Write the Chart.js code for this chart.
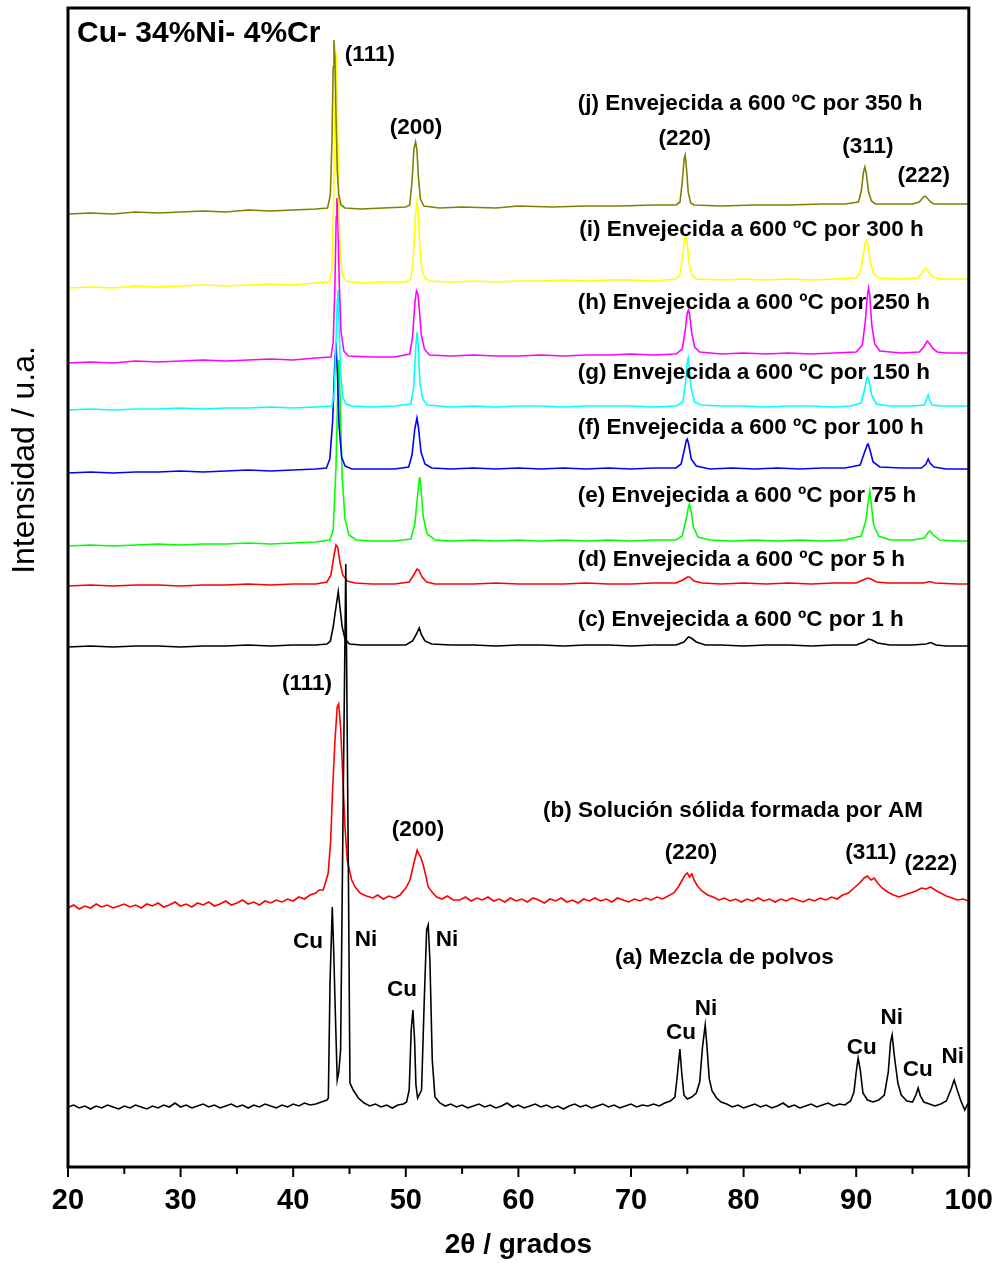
<!DOCTYPE html>
<html>
<head>
<meta charset="utf-8">
<script src="https://cdn.jsdelivr.net/npm/chart.js@4.4.0/dist/chart.umd.min.js"></script>
<style>
  html, body { margin: 0; padding: 0; background: #fff; }
  #wrap { width: 1000px; height: 1266px; }
</style>
</head>
<body>
<div id="wrap"><canvas id="xrd" width="1000" height="1266"></canvas></div>
<script>
// Difractogramas, 2θ (grados) contra intensidad desplazada (u.a.)
const xTicks = [20, 30, 40, 50, 60, 70, 80, 90, 100];

const serieJ = [[20,953],[22,954],[24,953],[26,955],[28,954],[30,955],[32,956],[34,955],[36,957],[38,956],[40,957],[42,958],[43.05,959],[43.3,972],[43.45,1030],[43.55,1100],[43.62,1127],[43.7,1110],[43.8,1050],[43.92,995],[44.05,972],[44.25,962],[44.6,959],[46,958],[48,959],[50,960],[50.35,962],[50.55,985],[50.72,1018],[50.87,1025],[50.98,1018],[51.12,990],[51.3,968],[51.6,961],[53,959],[55,960],[58,959],[60,961],[63,960],[66,961],[69,961],[72,962],[74,962],[74.35,965],[74.55,985],[74.72,1008],[74.81,1012],[74.92,1000],[75.08,975],[75.3,964],[75.6,962],[78,961],[81,962],[84,962],[87,963],[89,963],[90.2,965],[90.45,976],[90.65,995],[90.77,1000],[90.9,993],[91.1,975],[91.35,966],[91.7,963],[93,963],[95,963],[95.6,965],[95.9,969],[96.09,971],[96.3,969],[96.6,965],[96.9,963],[98,963],[100,963]];

const serieI = [[20,879],[22,880],[24,879],[26,881],[28,880],[30,881],[32,882],[34,881],[36,882],[38,883],[40,882],[42,884],[43.25,885],[43.45,900],[43.6,970],[43.72,1070],[43.8,1115],[43.9,1075],[44.02,980],[44.15,920],[44.35,893],[44.7,886],[46,884],[48,885],[50,885],[50.45,888],[50.65,905],[50.85,950],[50.99,965],[51.1,955],[51.25,920],[51.45,895],[51.75,888],[52.2,886],[54,885],[56,886],[58,885],[60,886],[62,886],[64,887],[66,886],[68,887],[70,887],[72,886],[74,888],[74.35,892],[74.58,910],[74.76,928],[74.87,930],[74.98,925],[75.15,905],[75.4,892],[75.8,888],[78,887],[80,888],[82,887],[84,888],[86,887],[88,888],[90,889],[90.35,894],[90.6,910],[90.8,924],[90.92,927],[91.05,922],[91.25,905],[91.55,893],[92,889],[94,888],[95.5,889],[95.85,894],[96.15,899],[96.45,895],[96.85,890],[97.5,888],[99,888],[100,888]];

const serieH = [[20,804],[22,805],[24,804],[26,806],[28,805],[30,806],[32,807],[34,806],[36,807],[38,808],[40,807],[42,809],[43.35,810],[43.55,825],[43.7,880],[43.82,950],[43.88,969],[43.97,945],[44.1,880],[44.25,835],[44.5,816],[44.9,811],[47,810],[49,810],[50.35,813],[50.6,830],[50.82,866],[50.95,876],[51.08,873],[51.2,858],[51.38,832],[51.65,818],[52.1,812],[54,811],[56,812],[58,811],[60,811],[62,812],[64,811],[66,812],[68,812],[70,813],[72,812],[74,813],[74.55,818],[74.8,835],[75.0,854],[75.1,857],[75.2,853],[75.38,835],[75.65,820],[76.1,815],[78,813],[80,814],[82,813],[84,814],[86,813],[88,814],[90,815],[90.55,822],[90.8,845],[91.0,872],[91.1,879],[91.2,872],[91.38,842],[91.65,823],[92.1,816],[94,814],[95.6,815],[96.0,820],[96.3,826],[96.55,823],[96.75,819],[97.2,815],[98,814],[100,814]];

const serieG = [[20,757],[22,758],[24,757],[26,758],[28,758],[30,759],[32,758],[34,759],[36,759],[38,760],[40,759],[42,760],[43.45,761],[43.65,775],[43.8,825],[43.92,868],[43.97,877],[44.05,850],[44.2,795],[44.4,770],[44.7,763],[45.2,761],[47,760],[49,761],[50.45,763],[50.7,780],[50.9,822],[51.0,835],[51.1,822],[51.25,785],[51.5,768],[51.9,762],[54,760],[56,761],[58,760],[60,761],[62,761],[64,760],[66,761],[68,761],[70,761],[72,760],[74,761],[74.6,765],[74.85,785],[75.0,805],[75.08,809],[75.18,800],[75.35,778],[75.65,765],[76.2,762],[78,761],[80,761],[82,760],[84,761],[86,761],[88,760],[89.5,761],[90.45,764],[90.75,778],[90.95,789],[91.01,790],[91.15,786],[91.4,771],[91.8,763],[93,761],[95,761],[96.05,762],[96.25,768],[96.39,772],[96.52,767],[96.75,762],[97.5,761],[99,761],[100,761]];

const serieF = [[20,694],[22,695],[24,694],[26,695],[28,695],[30,696],[32,695],[34,696],[36,697],[38,696],[40,697],[42,698],[42.95,699],[43.25,708],[43.5,745],[43.68,800],[43.8,824],[43.92,795],[44.08,740],[44.3,710],[44.6,701],[45.2,698],[47,698],[49,698],[50.25,700],[50.55,712],[50.8,738],[50.99,749],[51.12,740],[51.35,715],[51.7,703],[52.3,699],[54,698],[56,699],[58,698],[60,699],[62,698],[64,699],[66,698],[68,699],[70,698],[72,699],[74,699],[74.45,703],[74.75,718],[74.92,727],[74.99,728],[75.1,724],[75.35,708],[75.8,701],[77,698],[79,699],[81,698],[83,699],[85,698],[87,699],[89,699],[90.35,702],[90.75,715],[90.98,722],[91.06,723],[91.2,718],[91.5,705],[92.1,700],[94,699],[95.8,699],[96.2,703],[96.39,708],[96.55,704],[96.9,700],[98,698],[100,698]];

const serieE = [[20,621],[22,622],[24,621],[26,622],[28,623],[30,622],[32,623],[34,623],[36,624],[38,623],[40,624],[42,625],[43.25,627],[43.55,637],[43.8,700],[43.97,780],[44.06,807],[44.16,770],[44.35,690],[44.6,648],[44.95,632],[45.6,627],[47,626],[49,626],[50.45,628],[50.8,643],[51.05,672],[51.2,688],[51.25,690],[51.35,678],[51.55,650],[51.9,633],[52.6,627],[54,626],[56,627],[58,626],[60,627],[62,626],[64,627],[66,626],[68,627],[70,626],[72,627],[74,627],[74.55,631],[74.9,648],[75.12,661],[75.2,663],[75.32,657],[75.55,640],[75.95,630],[77,627],[79,626],[81,627],[83,626],[85,627],[87,626],[89,627],[90.45,631],[90.85,646],[91.1,668],[91.21,676],[91.32,665],[91.55,642],[92.0,631],[93,627],[95,627],[96.05,629],[96.35,634],[96.54,636],[96.85,632],[97.4,627],[99,626],[100,626]];

const serieD = [[20,581],[22,582],[24,581],[26,582],[28,582],[30,581],[32,582],[34,582],[36,583],[38,582],[40,583],[42,583],[43.0,585],[43.35,592],[43.6,610],[43.8,622],[43.95,620],[44.15,605],[44.4,592],[44.8,586],[45.5,584],[47,583],[49,583],[50.3,585],[50.7,592],[51.0,598],[51.15,597],[51.45,590],[51.85,585],[52.6,583],[54,583],[56,583],[58,584],[60,583],[62,583],[64,583],[66,584],[68,583],[70,583],[72,584],[74,584],[74.6,587],[75.0,590],[75.2,590],[75.6,586],[76.3,584],[78,583],[80,584],[82,583],[84,584],[86,583],[88,584],[90,584],[90.6,587],[91.0,589],[91.3,588],[91.8,585],[92.8,584],[95,584],[96,584],[96.5,585.5],[97,584],[99,583],[100,583]];

const serieC = [[20,520],[22,521],[24,520],[26,521],[28,521],[30,520],[32,521],[34,521],[36,522],[38,521],[40,522],[42,522],[43.0,523],[43.3,526],[43.55,540],[43.75,556],[44.0,575.5],[44.15,560],[44.35,540],[44.6,528],[45.0,523],[46,522],[48,522],[50,522],[50.6,526],[50.95,533],[51.19,539],[51.4,532],[51.7,526],[52.3,523],[54,522],[56,522],[58,521],[60,522],[62,522],[64,521],[66,522],[68,522],[70,521],[72,522],[74,522],[74.7,525],[75.1,530],[75.35,529],[75.8,525],[76.6,522],[78,522],[80,521],[82,522],[84,522],[86,521],[88,522],[90,522],[90.7,525],[91.1,528],[91.4,527],[91.9,524],[93,522],[95,522],[96.2,523],[96.62,524.5],[97.1,522],[98,521],[100,521]];

const serieB = [[20,259],[20.5,262],[21,258],[21.5,261],[22,259],[22.5,263],[23,260],[23.5,262],[24,259],[24.5,261],[25,263],[25.5,260],[26,262],[26.5,259],[27,263],[27.5,261],[28,264],[28.5,260],[29,262],[29.5,265],[30,261],[30.5,263],[31,260],[31.5,264],[32,262],[32.5,265],[33,261],[33.5,263],[34,266],[34.5,262],[35,264],[35.5,267],[36,263],[36.5,265],[37,262],[37.5,266],[38,264],[38.5,267],[39,265],[39.5,268],[40,266],[40.5,270],[41,268],[41.5,272],[42,274],[42.3,277],[42.67,277],[43.11,294],[43.33,327],[43.5,377],[43.71,427],[43.91,460],[44.04,463],[44.21,440],[44.39,394],[44.6,340],[44.8,307],[45.19,287],[45.5,280],[45.93,274],[46.5,271],[47.08,269],[47.5,272],[48,268],[48.5,271],[49,269],[49.48,272],[50,279],[50.37,287],[50.72,304],[50.9,312],[51.01,317],[51.15,313],[51.32,310],[51.55,302],[51.8,290],[51.99,280],[52.4,274],[52.74,270],[53.2,268],[53.7,271],[54.2,267],[54.81,267],[55.3,270],[55.8,266],[56.3,269],[56.8,267],[57.3,270],[57.8,266],[58.3,268],[58.8,265],[59.3,269],[59.8,266],[60.3,268],[60.8,265],[61.3,269],[61.8,267],[62.3,264],[62.8,268],[63.3,266],[63.8,269],[64.3,265],[64.8,267],[65.3,264],[65.8,268],[66.3,266],[66.8,269],[67.3,266],[67.8,268],[68.3,265],[68.8,269],[69.3,267],[69.8,265],[70.3,268],[70.8,266],[71.3,269],[71.8,267],[72.3,270],[72.8,268],[73.3,271],[73.8,274],[74.2,280],[74.5,286],[74.8,292],[75.0,294],[75.2,290],[75.4,293],[75.6,287],[75.9,281],[76.3,276],[76.8,272],[77.3,270],[77.8,267],[78.3,269],[78.8,266],[79.3,268],[79.8,265],[80.3,268],[80.8,266],[81.3,269],[81.8,266],[82.3,268],[82.8,265],[83.3,268],[83.8,266],[84.3,269],[84.8,267],[85.3,265],[85.8,268],[86.3,266],[86.8,269],[87.3,267],[87.8,270],[88.3,268],[88.8,272],[89.3,274],[89.8,279],[90.3,284],[90.7,289],[91.0,291],[91.3,287],[91.6,289],[91.9,284],[92.3,279],[92.8,275],[93.3,272],[93.8,270],[94.3,272],[94.8,274],[95.3,276],[95.8,279],[96.2,278],[96.6,280],[97.0,277],[97.5,274],[98,271],[98.5,269],[99,267],[99.5,268],[100,266]];

const serieA = [[20,60],[20.5,62],[21,59],[21.5,61],[22,58],[22.5,61],[23,59],[23.5,62],[24,60],[24.5,58],[25,61],[25.5,59],[26,62],[26.5,60],[27,58],[27.5,61],[28,59],[28.5,62],[29,60],[29.5,64],[30,60],[30.5,62],[31,59],[31.5,61],[32,63],[32.5,60],[33,62],[33.5,59],[34,61],[34.5,63],[35,60],[35.5,62],[36,59],[36.5,62],[37,60],[37.5,63],[38,61],[38.5,59],[39,62],[39.5,60],[40,63],[40.5,61],[41,64],[41.5,62],[42,63],[42.5,65],[43.0,67],[43.12,69],[43.27,184],[43.47,260],[43.6,215],[43.71,167],[43.91,87],[44.05,95],[44.21,117],[44.44,367],[44.67,603],[44.8,430],[44.92,267],[45.04,84],[45.33,77],[45.78,69],[46.3,64],[46.8,61],[47.3,63],[47.8,60],[48.3,62],[48.8,59],[49.3,62],[49.8,63],[50.07,65],[50.3,77],[50.48,137],[50.63,157],[50.78,127],[50.9,82],[51.05,69],[51.4,77],[51.64,167],[51.85,237],[51.99,242],[52.14,207],[52.35,107],[52.59,70],[53.03,64],[53.5,61],[54,63],[54.5,60],[55,62],[55.5,59],[56,61],[56.5,63],[57,60],[57.5,62],[58,59],[58.5,61],[59,64],[59.5,60],[60,62],[60.5,59],[61,61],[61.5,63],[62,60],[62.5,62],[63,59],[63.5,61],[64,58],[64.5,61],[65,63],[65.5,60],[66,62],[66.5,59],[67,61],[67.5,63],[68,60],[68.5,62],[69,59],[69.5,61],[70,63],[70.5,60],[71,62],[71.5,61],[72,63],[72.5,61],[73,64],[73.5,66],[73.9,70],[74.1,90],[74.34,118],[74.5,95],[74.7,72],[75.0,68],[75.4,70],[75.8,74],[76.1,85],[76.35,120],[76.59,142],[76.75,120],[76.95,88],[77.2,76],[77.6,69],[78,65],[78.5,63],[79,60],[79.5,62],[80,59],[80.5,61],[81,63],[81.5,60],[82,62],[82.5,59],[83,61],[83.5,64],[84,60],[84.5,62],[85,59],[85.5,61],[86,63],[86.5,60],[87,62],[87.5,64],[88,61],[88.5,63],[89,62],[89.5,66],[89.8,75],[90.0,95],[90.17,109],[90.35,98],[90.6,74],[91.0,67],[91.5,65],[92,67],[92.5,72],[92.85,95],[93.05,125],[93.19,132],[93.4,110],[93.7,84],[94,72],[94.5,66],[95,65],[95.3,72],[95.5,79],[95.7,71],[96,65],[96.5,63],[97,61],[97.5,63],[98,66],[98.4,77],[98.7,87],[99,76],[99.3,66],[99.64,57],[99.85,62],[100,64]];

const nombres = ['(j)', '(i)', '(h)', '(g)', '(f)', '(e)', '(d)', '(c)', '(b)', '(a)'];
const series = [serieJ, serieI, serieH, serieG, serieF, serieE, serieD, serieC, serieB, serieA];
const colores = ['#808000', '#ffff00', '#ff00ff', '#00ffff', '#0000ff', '#00ff00', '#ff0000', '#000000', '#ff0000', '#000000'];

// Textos sobre la gráfica: [texto, 2θ, intensidad, alineación, tamaño]
const etiquetas = [
  ['Cu- 34%Ni- 4%Cr', 20.8, 1133, 'left', 30],
  ['(111)', 46.81, 1112, 'center', 22.5],
  ['(200)', 50.9, 1039, 'center', 22.5],
  ['(220)', 74.78, 1028, 'center', 22.5],
  ['(311)', 91.03, 1020, 'center', 22.5],
  ['(222)', 96.0, 991, 'center', 22.5],
  ['(j) Envejecida a 600 ºC por 350 h', 65.28, 1063, 'left', 22.5],
  ['(i) Envejecida a 600 ºC por 300 h', 65.4, 937, 'left', 22.5],
  ['(h) Envejecida a 600 ºC por 250 h', 65.28, 864, 'left', 22.5],
  ['(g) Envejecida a 600 ºC por 150 h', 65.28, 794, 'left', 22.5],
  ['(f) Envejecida a 600 ºC por 100 h', 65.28, 739, 'left', 22.5],
  ['(e) Envejecida a 600 ºC por 75 h', 65.28, 671, 'left', 22.5],
  ['(d) Envejecida a 600 ºC por 5 h', 65.28, 607, 'left', 22.5],
  ['(c) Envejecida a 600 ºC por 1 h', 65.28, 547, 'left', 22.5],
  ['(111)', 41.22, 483, 'center', 22.5],
  ['(b) Solución sólida formada por AM', 62.18, 356, 'left', 22.5],
  ['(200)', 51.08, 337, 'center', 22.5],
  ['(220)', 75.32, 314, 'center', 22.5],
  ['(311)', 91.3, 314, 'center', 22.5],
  ['(222)', 96.63, 303, 'center', 22.5],
  ['Cu', 41.31, 225, 'center', 22.5],
  ['Ni', 46.46, 227, 'center', 22.5],
  ['Cu', 49.66, 177, 'center', 22.5],
  ['Ni', 53.65, 227, 'center', 22.5],
  ['(a) Mezcla de polvos', 68.57, 209, 'left', 22.5],
  ['Cu', 74.43, 134, 'center', 22.5],
  ['Ni', 76.65, 158, 'center', 22.5],
  ['Cu', 90.5, 119, 'center', 22.5],
  ['Ni', 93.16, 149, 'center', 22.5],
  ['Cu', 95.47, 97, 'center', 22.5],
  ['Ni', 98.58, 110, 'center', 22.5]
];

const FUENTE = '"Liberation Sans", Arial, Helvetica, sans-serif';

const datasets = series.map((s, i) => ({
  label: nombres[i],
  data: s.map(p => ({ x: p[0], y: p[1] })),
  borderColor: colores[i],
  borderWidth: 1.6,
  pointRadius: 0,
  tension: 0,
  fill: false,
  order: i === 9 ? -1 : i
}));

// Marco, marcas menores, textos y título vertical
const extras = {
  id: 'extras',
  afterDraw(chart) {
    const c = chart.ctx;
    const a = chart.chartArea;
    const sx = chart.scales.x;
    const sy = chart.scales.y;
    c.save();
    c.strokeStyle = '#000';
    c.lineWidth = 2;
    for (let v = 20; v <= 100; v += 5) {
      const px = sx.getPixelForValue(v);
      const largo = v % 10 === 0 ? 10 : 7;
      c.beginPath();
      c.moveTo(px, a.bottom);
      c.lineTo(px, a.bottom + largo);
      c.stroke();
    }
    c.lineWidth = 3;
    c.strokeRect(a.left, a.top, a.right - a.left, a.bottom - a.top);

    c.fillStyle = '#000';
    c.textBaseline = 'middle';
    etiquetas.forEach(e => {
      c.font = 'bold ' + e[4] + 'px ' + FUENTE;
      c.textAlign = e[3];
      c.fillText(e[0], sx.getPixelForValue(e[1]), sy.getPixelForValue(e[2]));
    });

    c.translate(25, 460);
    c.rotate(-Math.PI / 2);
    c.textAlign = 'center';
    c.font = '32px ' + FUENTE;
    c.fillText('Intensidad / u.a.', 0, 0);
    c.restore();
  }
};

const chart = new Chart(document.getElementById('xrd'), {
  type: 'line',
  data: { datasets: datasets },
  options: {
    responsive: false,
    animation: false,
    layout: { padding: { top: 8, right: 31, left: 0, bottom: 0 } },
    plugins: { legend: { display: false }, tooltip: { enabled: false } },
    scales: {
      x: {
        type: 'linear',
        min: 20,
        max: 100,
        afterFit: s => { s.height = 99; },
        afterBuildTicks: s => { s.ticks = xTicks.map(v => ({ value: v })); },
        grid: { display: false, drawTicks: true, tickLength: 10 },
        border: { display: false },
        ticks: {
          color: '#000',
          padding: 7,
          font: { family: FUENTE, size: 29, weight: 'bold' }
        },
        title: {
          display: true,
          text: '2θ / grados',
          color: '#000',
          font: { family: FUENTE, size: 28, weight: 'bold' },
          padding: { top: 0, bottom: 4 }
        }
      },
      y: {
        type: 'linear',
        min: 0,
        max: 1159,
        afterFit: s => { s.width = 68; },
        grid: { display: false },
        border: { display: false },
        ticks: { display: false }
      }
    }
  },
  plugins: [extras]
});
</script>
</body>
</html>
